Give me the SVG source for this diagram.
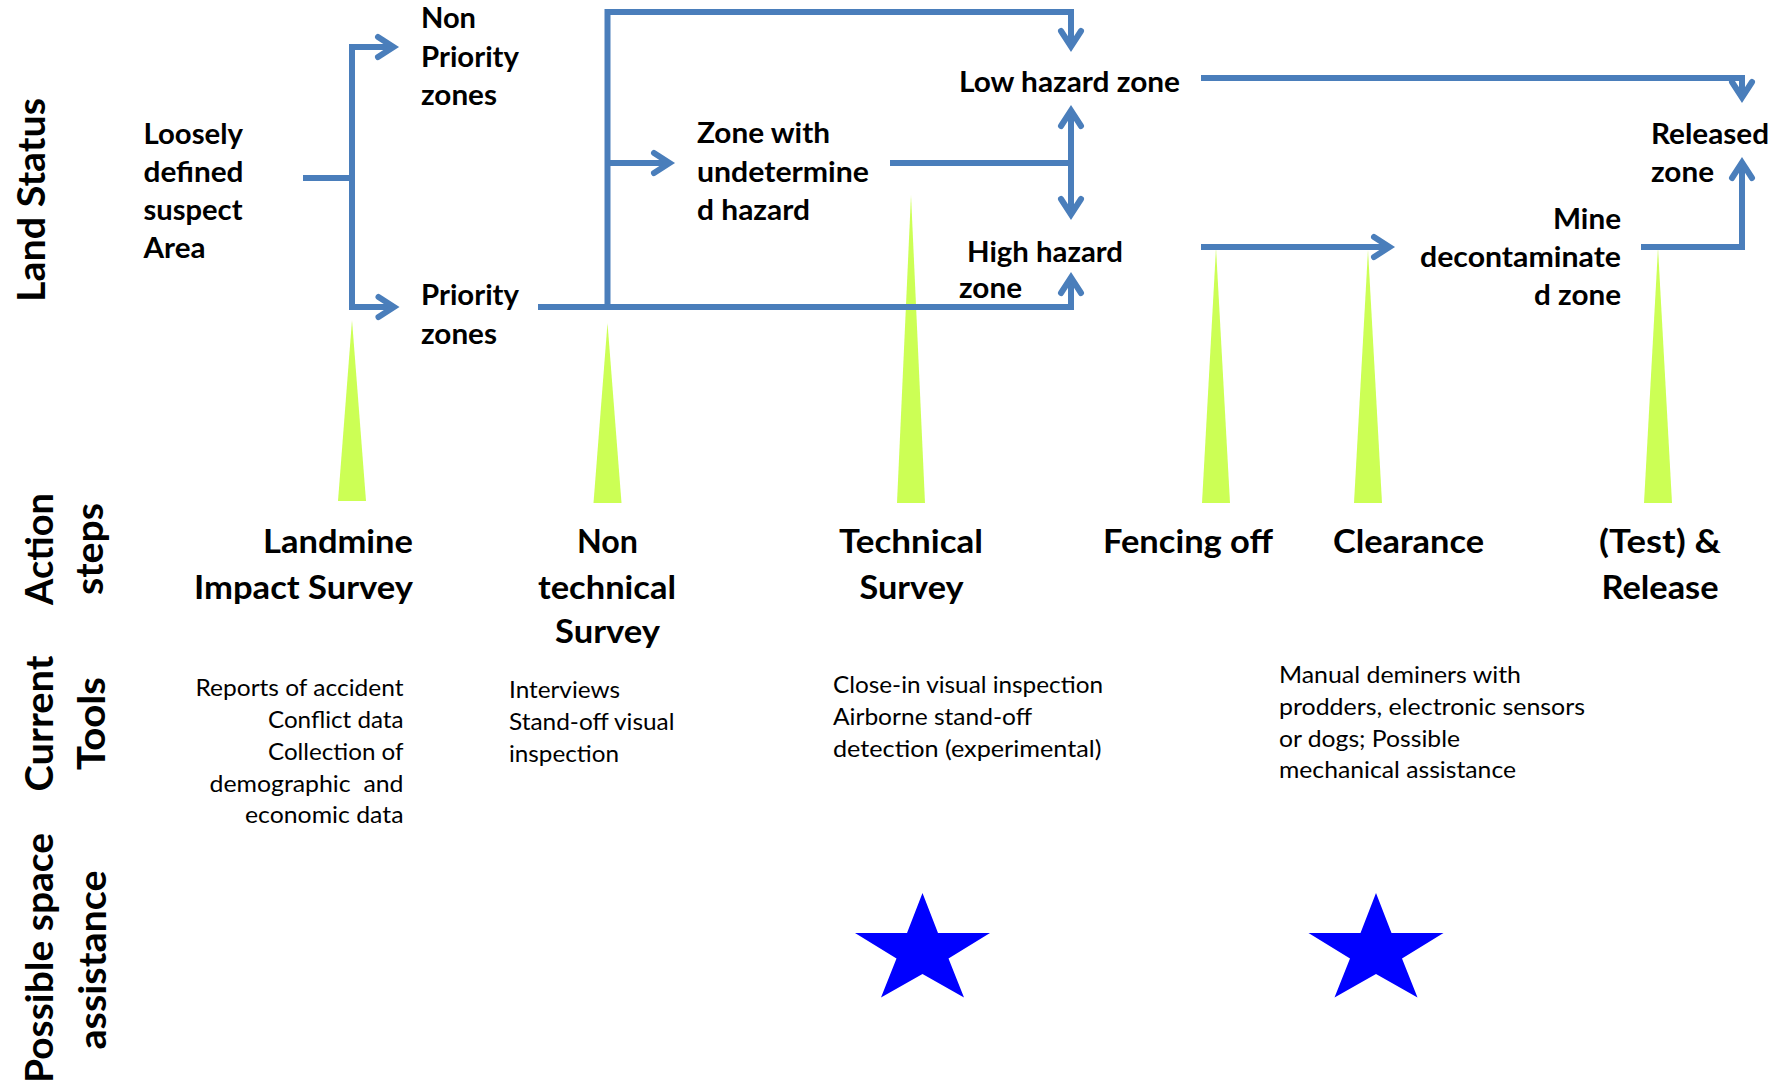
<svg xmlns="http://www.w3.org/2000/svg" width="1785" height="1088" viewBox="0 0 1785 1088">
  <style>
    text { fill: #000; font-family: Lato, "Open Sans", "Liberation Sans", sans-serif; }
    .r { font-size: 37.8px; font-weight: bold; }
    .n { font-size: 28.8px; font-weight: bold; }
    .a { font-size: 33px; font-weight: bold; }
    .t { font-size: 23.7px; font-weight: normal; }
    .end { text-anchor: end; }
    .mid { text-anchor: middle; }
    .link { fill: none; stroke: #4a7ebb; stroke-width: 6; stroke-linejoin: miter; }
    .beam { fill: #ccff55; }
    .star { fill: #0000ff; }
  </style>
  <defs>
    <marker id="arrow" markerUnits="userSpaceOnUse" markerWidth="50" markerHeight="50" viewBox="-25 -25 50 50" refX="0" refY="0" orient="auto-start-reverse" overflow="visible">
      <path d="M-15.5,-10 L0,0 L-15.5,10" fill="none" stroke="#4a7ebb" stroke-width="6" stroke-linecap="round" stroke-linejoin="miter"/>
    </marker>
    <path id="star-shape" d="M0,-58.5 L15.5,-18.5 L67.5,-18.5 L26,7 L41.5,46 L0,22.5 L-41.5,46 L-26,7 L-67.5,-18.5 L-15.5,-18.5 Z"/>
  </defs>

  <rect width="1785" height="1088" fill="#ffffff"/>

  <!-- row headings -->
  <g id="row-labels">
    <text class="r mid" transform="translate(45,200) rotate(-90)" textLength="204" lengthAdjust="spacingAndGlyphs">Land Status</text>
    <text class="r mid" transform="translate(53,549) rotate(-90)" textLength="112" lengthAdjust="spacingAndGlyphs">Action</text>
    <text class="r mid" transform="translate(103,549) rotate(-90)" textLength="92" lengthAdjust="spacingAndGlyphs">steps</text>
    <text class="r mid" transform="translate(53,723.5) rotate(-90)" textLength="136" lengthAdjust="spacingAndGlyphs">Current</text>
    <text class="r mid" transform="translate(105,723.5) rotate(-90)" textLength="93" lengthAdjust="spacingAndGlyphs">Tools</text>
    <text class="r mid" transform="translate(53,958) rotate(-90)" textLength="250" lengthAdjust="spacingAndGlyphs">Possible space</text>
    <text class="r mid" transform="translate(106,960) rotate(-90)" textLength="179" lengthAdjust="spacingAndGlyphs">assistance</text>
  </g>

  <!-- step markers (pointers from each action up to the land status) -->
  <g id="step-pointers">
    <polygon class="beam" points="352,320 366,501 338,501"/>
    <polygon class="beam" points="607.5,323 621.5,503 593.5,503"/>
    <polygon class="beam" points="911,195 925,503 897,503"/>
    <polygon class="beam" points="1216,248 1230,503 1202,503"/>
    <polygon class="beam" points="1368,250 1382,503 1354,503"/>
    <polygon class="beam" points="1658,248 1672,503 1644,503"/>
  </g>

  <!-- flow between land status zones -->
  <g id="connectors">
    <path class="link" d="M303,178 H352"/>
    <path class="link" d="M393.5,47 H352 V307 H394" marker-start="url(#arrow)" marker-end="url(#arrow)"/>
    <path class="link" d="M538,307 H1071 V277.5" marker-end="url(#arrow)"/>
    <path class="link" d="M607.5,307 V12 H1071 V46.5" marker-end="url(#arrow)"/>
    <path class="link" d="M607.5,163 H669.5" marker-end="url(#arrow)"/>
    <path class="link" d="M890,163 H1071"/>
    <path class="link" d="M1071,110.5 V214.5" marker-start="url(#arrow)" marker-end="url(#arrow)"/>
    <path class="link" d="M1201,78 H1742 V97.5" marker-end="url(#arrow)"/>
    <path class="link" d="M1201,247 H1389.5" marker-end="url(#arrow)"/>
    <path class="link" d="M1641,247 H1742 V162.5" marker-end="url(#arrow)"/>
  </g>

  <!-- land status nodes -->
  <g id="node-loosely-defined">
    <text class="n" x="143.5" y="144" textLength="99.5" lengthAdjust="spacingAndGlyphs">Loosely</text>
    <text class="n" x="143.5" y="182" textLength="100" lengthAdjust="spacingAndGlyphs">defined</text>
    <text class="n" x="143.5" y="220" textLength="99" lengthAdjust="spacingAndGlyphs">suspect</text>
    <text class="n" x="143.5" y="258" textLength="62" lengthAdjust="spacingAndGlyphs">Area</text>
  </g>
  <g id="node-non-priority">
    <text class="n" x="421" y="28" textLength="55" lengthAdjust="spacingAndGlyphs">Non</text>
    <text class="n" x="421" y="67" textLength="98" lengthAdjust="spacingAndGlyphs">Priority</text>
    <text class="n" x="421" y="105" textLength="76" lengthAdjust="spacingAndGlyphs">zones</text>
  </g>
  <g id="node-priority">
    <text class="n" x="421" y="305" textLength="98" lengthAdjust="spacingAndGlyphs">Priority</text>
    <text class="n" x="421" y="344" textLength="76" lengthAdjust="spacingAndGlyphs">zones</text>
  </g>
  <g id="node-undetermined">
    <text class="n" x="697" y="143" textLength="133" lengthAdjust="spacingAndGlyphs">Zone with</text>
    <text class="n" x="697" y="182" textLength="172" lengthAdjust="spacingAndGlyphs">undetermine</text>
    <text class="n" x="697" y="220" textLength="113" lengthAdjust="spacingAndGlyphs">d hazard</text>
  </g>
  <g id="node-low-hazard">
    <text class="n" x="959" y="92" textLength="221" lengthAdjust="spacingAndGlyphs">Low hazard zone</text>
  </g>
  <g id="node-high-hazard">
    <text class="n" x="967" y="262" textLength="156" lengthAdjust="spacingAndGlyphs">High hazard</text>
    <text class="n" x="959" y="298" textLength="63" lengthAdjust="spacingAndGlyphs">zone</text>
  </g>
  <g id="node-decontaminated">
    <text class="n end" x="1621" y="229" textLength="68" lengthAdjust="spacingAndGlyphs">Mine</text>
    <text class="n end" x="1621" y="267" textLength="201" lengthAdjust="spacingAndGlyphs">decontaminate</text>
    <text class="n end" x="1621" y="305" textLength="87" lengthAdjust="spacingAndGlyphs">d zone</text>
  </g>
  <g id="node-released">
    <text class="n" x="1651" y="144" textLength="118" lengthAdjust="spacingAndGlyphs">Released</text>
    <text class="n" x="1651" y="182" textLength="63" lengthAdjust="spacingAndGlyphs">zone</text>
  </g>

  <!-- action steps -->
  <g id="step-impact-survey">
    <text class="a end" x="413" y="553" textLength="150" lengthAdjust="spacingAndGlyphs">Landmine</text>
    <text class="a end" x="413" y="599" textLength="219" lengthAdjust="spacingAndGlyphs">Impact Survey</text>
  </g>
  <g id="step-non-technical">
    <text class="a mid" x="607.5" y="553" textLength="61" lengthAdjust="spacingAndGlyphs">Non</text>
    <text class="a mid" x="607" y="599" textLength="138" lengthAdjust="spacingAndGlyphs">technical</text>
    <text class="a mid" x="607.5" y="643" textLength="105" lengthAdjust="spacingAndGlyphs">Survey</text>
  </g>
  <g id="step-technical">
    <text class="a mid" x="911" y="553" textLength="144" lengthAdjust="spacingAndGlyphs">Technical</text>
    <text class="a mid" x="911.5" y="599" textLength="104" lengthAdjust="spacingAndGlyphs">Survey</text>
  </g>
  <g id="step-fencing">
    <text class="a mid" x="1188" y="553" textLength="170" lengthAdjust="spacingAndGlyphs">Fencing off</text>
  </g>
  <g id="step-clearance">
    <text class="a mid" x="1408.5" y="553" textLength="151" lengthAdjust="spacingAndGlyphs">Clearance</text>
  </g>
  <g id="step-release">
    <text class="a mid" x="1660" y="553" textLength="122" lengthAdjust="spacingAndGlyphs">(Test) &amp;</text>
    <text class="a mid" x="1660" y="599" textLength="117" lengthAdjust="spacingAndGlyphs">Release</text>
  </g>

  <!-- current tools -->
  <g id="tools-impact-survey">
    <text class="t end" x="403.5" y="696" textLength="208" lengthAdjust="spacingAndGlyphs">Reports of accident</text>
    <text class="t end" x="403.5" y="728" textLength="135.5" lengthAdjust="spacingAndGlyphs">Conflict data</text>
    <text class="t end" x="403.5" y="760" textLength="135.5" lengthAdjust="spacingAndGlyphs">Collection of</text>
    <text class="t end" x="403.5" y="792" textLength="194" lengthAdjust="spacingAndGlyphs" xml:space="preserve">demographic  and</text>
    <text class="t end" x="403.5" y="823" textLength="158.5" lengthAdjust="spacingAndGlyphs">economic data</text>
  </g>
  <g id="tools-non-technical">
    <text class="t" x="509" y="698" textLength="111" lengthAdjust="spacingAndGlyphs">Interviews</text>
    <text class="t" x="509" y="730" textLength="165.5" lengthAdjust="spacingAndGlyphs">Stand-off visual</text>
    <text class="t" x="509" y="762" textLength="110" lengthAdjust="spacingAndGlyphs">inspection</text>
  </g>
  <g id="tools-technical">
    <text class="t" x="833" y="693" textLength="270" lengthAdjust="spacingAndGlyphs">Close-in visual inspection</text>
    <text class="t" x="833" y="725" textLength="199" lengthAdjust="spacingAndGlyphs">Airborne stand-off</text>
    <text class="t" x="833" y="757" textLength="268.5" lengthAdjust="spacingAndGlyphs">detection (experimental)</text>
  </g>
  <g id="tools-clearance">
    <text class="t" x="1279" y="683" textLength="242" lengthAdjust="spacingAndGlyphs">Manual deminers with</text>
    <text class="t" x="1279" y="715" textLength="306" lengthAdjust="spacingAndGlyphs">prodders, electronic sensors</text>
    <text class="t" x="1279" y="747" textLength="181" lengthAdjust="spacingAndGlyphs">or dogs; Possible</text>
    <text class="t" x="1279" y="778" textLength="237" lengthAdjust="spacingAndGlyphs">mechanical assistance</text>
  </g>

  <!-- possible space assistance -->
  <g id="space-assistance">
    <use class="star" href="#star-shape" x="922.5" y="951.5"/>
    <use class="star" href="#star-shape" x="1376" y="951.5"/>
  </g>
</svg>
